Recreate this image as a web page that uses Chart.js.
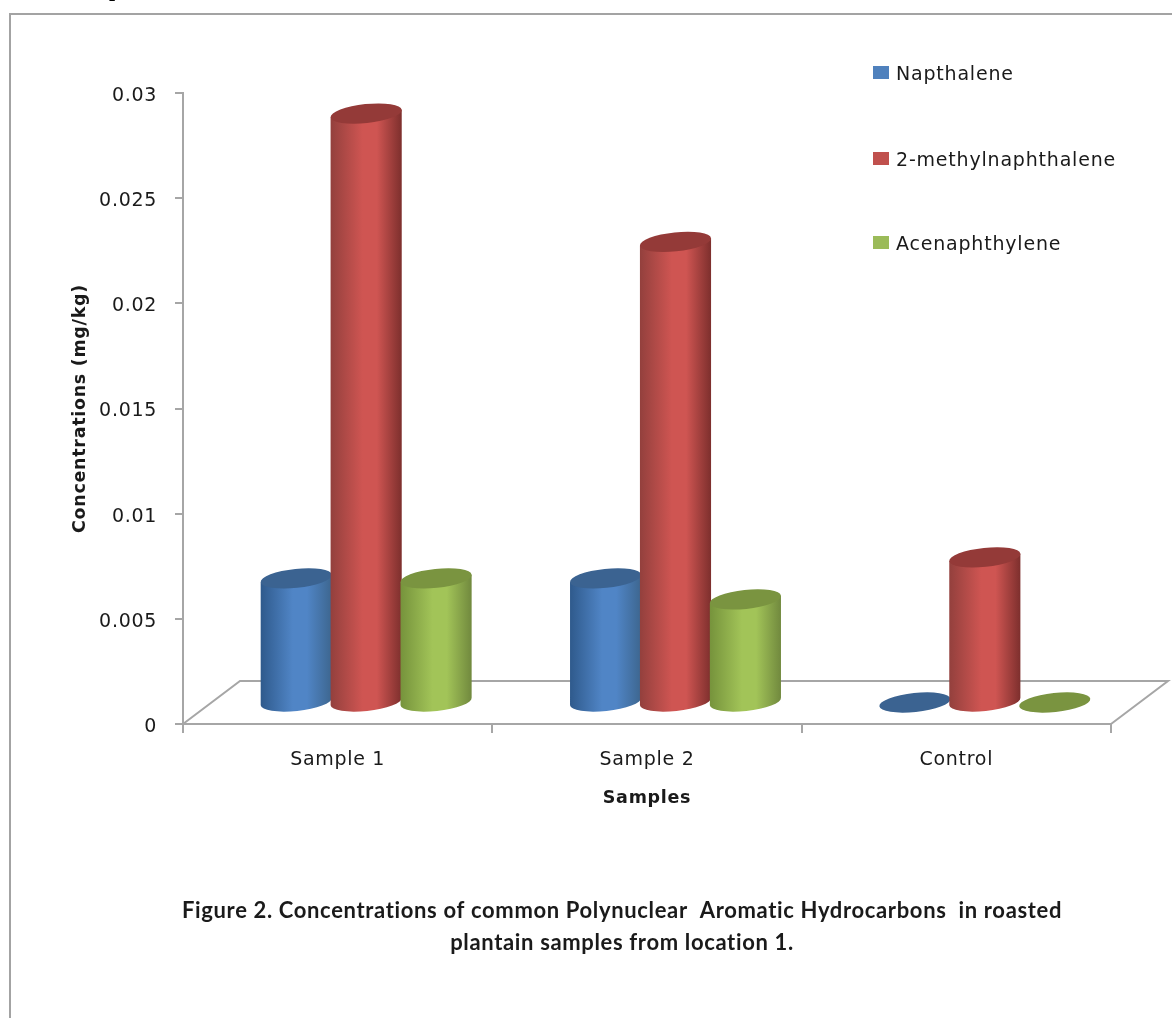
<!DOCTYPE html>
<html>
<head>
<meta charset="utf-8">
<title>Polynuclear Aromatic Hydrocarbons</title>
<script src="https://cdn.jsdelivr.net/npm/chart.js@4/dist/chart.umd.min.js"></script>
<style>
  html, body { margin: 0; padding: 0; background: #fff; }
  canvas { display: block; }
</style>
</head>
<body>
<canvas id="pah-chart" width="1172" height="1018"></canvas>
<script>
"use strict";

var CATEGORIES = ["Sample 1", "Sample 2", "Control"];
var NAPTHALENE = [0.0059, 0.0059, 0];
var METHYLNAPHTHALENE = [0.028, 0.0219, 0.0069];
var ACENAPHTHYLENE = [0.0059, 0.0049, 0];
var SERIES_NAMES = ["Napthalene", "2-methylnaphthalene", "Acenaphthylene"];
var Y_TICK_LABELS = ["0", "0.005", "0.01", "0.015", "0.02", "0.025", "0.03"];
var CAPTION_LINES = [
  "Figure 2. Concentrations of common Polynuclear  Aromatic Hydrocarbons  in roasted",
  "plantain samples from location 1.",
];

// body gradient stops and the darker top face for each series
var SERIES_COLORS = [
  { swatch: "#4f81bd", left: "#2f5a8c", mid: "#5085c6", right: "#3d668f", top: "#3b6391" },
  { swatch: "#c0504d", left: "#93403d", mid: "#cf5552", right: "#7d2f2d", top: "#943a38" },
  { swatch: "#9bbb59", left: "#76933c", mid: "#a2c458", right: "#71893e", top: "#7a9440" },
];

var AXIS_GRAY = "#a6a6a6";
var TEXT_COLOR = "#1a1a1a";
var LABEL_FONT = "DejaVu Sans";

// the floor runs back this far behind the axis, the cylinders stand half way
var DEPTH_X = 57;
var DEPTH_Y = 43;
var ELLIPSE_RY = 9.5;
var ELLIPSE_TILT = (-6 * Math.PI) / 180;

function drawFloor(ctx, area) {
  ctx.save();
  ctx.strokeStyle = AXIS_GRAY;
  ctx.lineWidth = 2;
  ctx.beginPath();
  ctx.moveTo(area.left, area.bottom);
  ctx.lineTo(area.left + DEPTH_X, area.bottom - DEPTH_Y);
  ctx.lineTo(area.right + DEPTH_X, area.bottom - DEPTH_Y);
  ctx.lineTo(area.right, area.bottom);
  ctx.stroke();
  ctx.restore();
}

function drawCylinder(ctx, bar, colors) {
  var cx = bar.x + DEPTH_X / 2;
  var baseY = bar.base - DEPTH_Y / 2;
  var topY = bar.y - DEPTH_Y / 2;
  // neighbours overlap by a pixel or so
  var rx = bar.width / 2 + 0.8;
  var dx = rx * Math.cos(ELLIPSE_TILT);
  var dy = rx * Math.sin(ELLIPSE_TILT);

  if (baseY - topY > 1) {
    var grad = ctx.createLinearGradient(cx - dx, 0, cx + dx, 0);
    grad.addColorStop(0, colors.left);
    grad.addColorStop(0.45, colors.mid);
    grad.addColorStop(0.65, colors.mid);
    grad.addColorStop(1, colors.right);
    ctx.fillStyle = grad;
    ctx.beginPath();
    ctx.moveTo(cx - dx, topY - dy);
    ctx.lineTo(cx - dx, baseY - dy);
    ctx.ellipse(cx, baseY, rx, ELLIPSE_RY, ELLIPSE_TILT, Math.PI, 0, true);
    ctx.lineTo(cx + dx, topY + dy);
    ctx.closePath();
    ctx.fill();
  }

  ctx.fillStyle = colors.top;
  ctx.beginPath();
  ctx.ellipse(cx, topY, rx, ELLIPSE_RY, ELLIPSE_TILT, 0, Math.PI * 2);
  ctx.fill();
}

function drawLegend(ctx) {
  var rowY = [72.5, 158.5, 242.5];
  ctx.save();
  ctx.font = "19px '" + LABEL_FONT + "'";
  ctx.letterSpacing = "0.8px";
  ctx.textAlign = "left";
  ctx.textBaseline = "middle";
  SERIES_NAMES.forEach((name, i) => {
    ctx.fillStyle = SERIES_COLORS[i].swatch;
    ctx.fillRect(873, rowY[i] - 6.5, 16, 13);
    ctx.fillStyle = TEXT_COLOR;
    ctx.fillText(name, 896, rowY[i] + 2.5);
  });
  ctx.restore();
}

function drawCaption(ctx) {
  ctx.save();
  ctx.font = "bold 22px Lato";
  ctx.letterSpacing = "0.65px";
  ctx.textAlign = "center";
  ctx.textBaseline = "middle";
  ctx.fillStyle = TEXT_COLOR;
  ctx.fillText(CAPTION_LINES[0], 622, 911);
  ctx.fillText(CAPTION_LINES[1], 622, 943);
  ctx.restore();
}

var cylinderPlugin = {
  id: "cylinders",
  beforeDraw(chart) {
    var ctx = chart.ctx;
    ctx.letterSpacing = "0.7px";
    // panel border, it runs off the right and bottom edges
    ctx.save();
    ctx.strokeStyle = "#a3a3a3";
    ctx.lineWidth = 2;
    ctx.beginPath();
    ctx.moveTo(10, chart.height);
    ctx.lineTo(10, 14);
    ctx.lineTo(chart.width, 14);
    ctx.stroke();
    // tail of the heading line that sits above the panel
    ctx.font = "bold 22px 'Liberation Serif'";
    ctx.fillStyle = "#000";
    ctx.fillText("p", 109, -4);
    ctx.restore();
  },
  beforeDatasetsDraw(chart) {
    var ctx = chart.ctx;
    drawFloor(ctx, chart.chartArea);
    chart.data.datasets.forEach((ds, i) => {
      chart.getDatasetMeta(i).data.forEach((bar) => {
        drawCylinder(ctx, bar, SERIES_COLORS[i]);
      });
    });
    // cylinders replace the flat bars
    return false;
  },
  afterDraw(chart) {
    drawLegend(chart.ctx);
    drawCaption(chart.ctx);
  },
};

var ctx = document.getElementById("pah-chart").getContext("2d");

new Chart(ctx, {
  type: "bar",
  data: {
    labels: CATEGORIES,
    datasets: [
      { label: SERIES_NAMES[0], data: NAPTHALENE, backgroundColor: SERIES_COLORS[0].swatch },
      { label: SERIES_NAMES[1], data: METHYLNAPHTHALENE, backgroundColor: SERIES_COLORS[1].swatch },
      { label: SERIES_NAMES[2], data: ACENAPHTHYLENE, backgroundColor: SERIES_COLORS[2].swatch },
    ],
  },
  options: {
    responsive: false,
    animation: false,
    categoryPercentage: 0.678,
    barPercentage: 1,
    layout: { padding: { top: 93, right: 61, bottom: 204, left: 0 } },
    plugins: {
      legend: { display: false },
      tooltip: { enabled: false },
      title: { display: false },
    },
    scales: {
      x: {
        afterFit(scale) {
          scale.height = 90;
        },
        border: { color: AXIS_GRAY, width: 2 },
        grid: { drawOnChartArea: false, color: AXIS_GRAY, lineWidth: 2, tickLength: 9 },
        ticks: {
          color: TEXT_COLOR,
          padding: 16,
          maxRotation: 0,
          font: { family: LABEL_FONT, size: 19 },
        },
        title: {
          display: true,
          text: "Samples",
          color: TEXT_COLOR,
          padding: { top: 0, bottom: 5 },
          font: { family: LABEL_FONT, size: 17.5, weight: "bold" },
        },
      },
      y: {
        min: 0,
        max: 0.03,
        afterFit(scale) {
          scale.width = 183;
        },
        border: { color: AXIS_GRAY, width: 2 },
        grid: { drawOnChartArea: false, color: AXIS_GRAY, lineWidth: 2, tickLength: 8 },
        ticks: {
          stepSize: 0.005,
          color: TEXT_COLOR,
          padding: 18,
          labelOffset: 3,
          font: { family: LABEL_FONT, size: 19 },
          callback: (value, index) => Y_TICK_LABELS[index],
        },
        title: {
          display: true,
          text: "Concentrations (mg/kg)",
          color: TEXT_COLOR,
          padding: { top: 70, bottom: 0 },
          font: { family: LABEL_FONT, size: 17.5, weight: "bold" },
        },
      },
    },
  },
  plugins: [cylinderPlugin],
});
</script>
</body>
</html>
